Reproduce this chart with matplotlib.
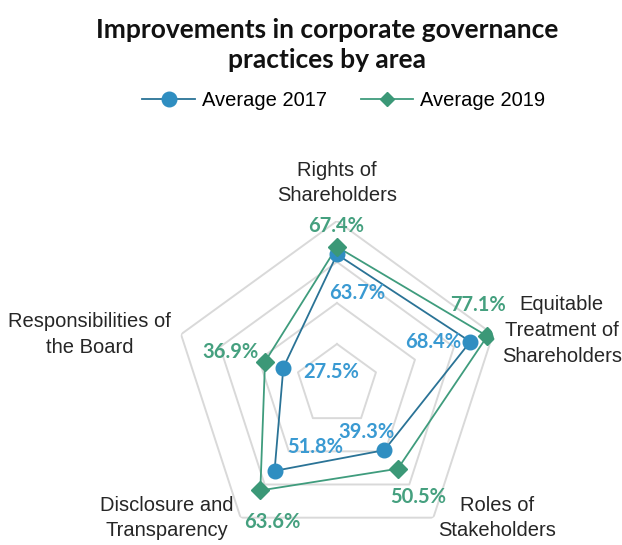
import matplotlib.pyplot as plt
import numpy as np

categories = ['Rights of\nShareholders', 'Equitable\nTreatment of\nShareholders',
              'Roles of\nStakeholders', 'Disclosure and\nTransparency',
              'Responsibilities of\nthe Board']
avg_2017 = [63.7, 68.4, 39.3, 51.8, 27.5]
avg_2019 = [67.4, 77.1, 50.5, 63.6, 36.9]
rings = [20, 40, 60, 80]

c17_line = '#2A7396'
c17_mark = '#2F8EC1'
c17_text = '#3A9AD2'
c19_line = '#3F9C7D'
c19_mark = '#3B9877'
c19_text = '#45A07F'

fig = plt.figure(figsize=(6.22, 5.45), dpi=100)
ax = fig.add_axes([0.2781, -0.0073, 0.5273, 0.6018], projection='polar')
ax.set_theta_zero_location('N')
ax.set_theta_direction(-1)
ax.set_ylim(0, 80)
ax.grid(False)
ax.spines['polar'].set_visible(False)
ax.set_xticks([])
ax.set_yticks([])
ax.patch.set_alpha(0)

n = len(categories)
theta = np.linspace(0, 2 * np.pi, n, endpoint=False)
closed = np.append(theta, theta[0])

# pentagon gridlines
for r in rings:
    ax.plot(closed, [r] * (n + 1), color='#D9D9D9', lw=1.4, zorder=1)

ax.plot(closed, avg_2017 + avg_2017[:1], color=c17_line, lw=1.3, zorder=3)
ax.plot(theta, avg_2017, 'o', color=c17_mark, ms=10.5, zorder=4)
ax.plot(closed, avg_2019 + avg_2019[:1], color=c19_line, lw=1.3, zorder=3)
ax.plot(theta, avg_2019, 'D', color=c19_mark, ms=9.5, zorder=5)

# value labels, offsets in pixels from each point
off_2017 = [(20, -39), (-37, 0), (-18, 18), (41, 24), (48, -4)]
off_2019 = [(-1, 21), (-9, 31), (20, -28), (12, -32), (-35, 10)]
lab_font = dict(family='Lato', weight='bold', size=14.5)
for t, v, o in zip(theta, avg_2017, off_2017):
    ax.annotate(f'{v:.1f}%', (t, v), xytext=o, textcoords='offset pixels',
                ha='center', va='center', color=c17_text, zorder=6, **lab_font)
for t, v, o in zip(theta, avg_2019, off_2019):
    ax.annotate(f'{v:.1f}%', (t, v), xytext=o, textcoords='offset pixels',
                ha='center', va='center', color=c19_text, zorder=6, **lab_font)

# category labels
cat_font = dict(family='Liberation Sans', size=14.5, color='#262626',
                multialignment='center', linespacing=1.45)
cat_pos = [(0, 98.5, 'center', 'center'), (theta[1], 80, 'left', 'center'),
           (theta[2], 86, 'left', 'top'), (theta[3], 86, 'right', 'top'),
           (theta[4], 80, 'right', 'center')]
cat_off = [(0, 0), (9, 4), (-2, 32), (0, 32), (-10, 0)]
for name, (t, r, ha, va), o in zip(categories, cat_pos, cat_off):
    ax.annotate(name, (t, r), xytext=o, textcoords='offset pixels',
                ha=ha, va=va, annotation_clip=False, **cat_font)

fig.text(0.526, 0.917, 'Improvements in corporate governance\npractices by area',
         ha='center', va='center', family='Lato', weight='bold', size=19,
         linespacing=1.3, color='#111111')

h17, = plt.plot([], [], color=c17_line, lw=1.3, marker='o', ms=10.5,
                mfc=c17_mark, mec=c17_mark)
h19, = plt.plot([], [], color=c19_line, lw=1.3, marker='D', ms=7.5,
                mfc=c19_mark, mec=c19_mark)
fig.legend([h17, h19], ['Average 2017', 'Average 2019'], loc='center',
           bbox_to_anchor=(0.553, 0.8147), ncol=2, frameon=False,
           prop=dict(family='Liberation Sans', size=14.5), handlelength=2.6,
           columnspacing=1.7, handletextpad=0.35)

fig.savefig('out.png', dpi=100)
